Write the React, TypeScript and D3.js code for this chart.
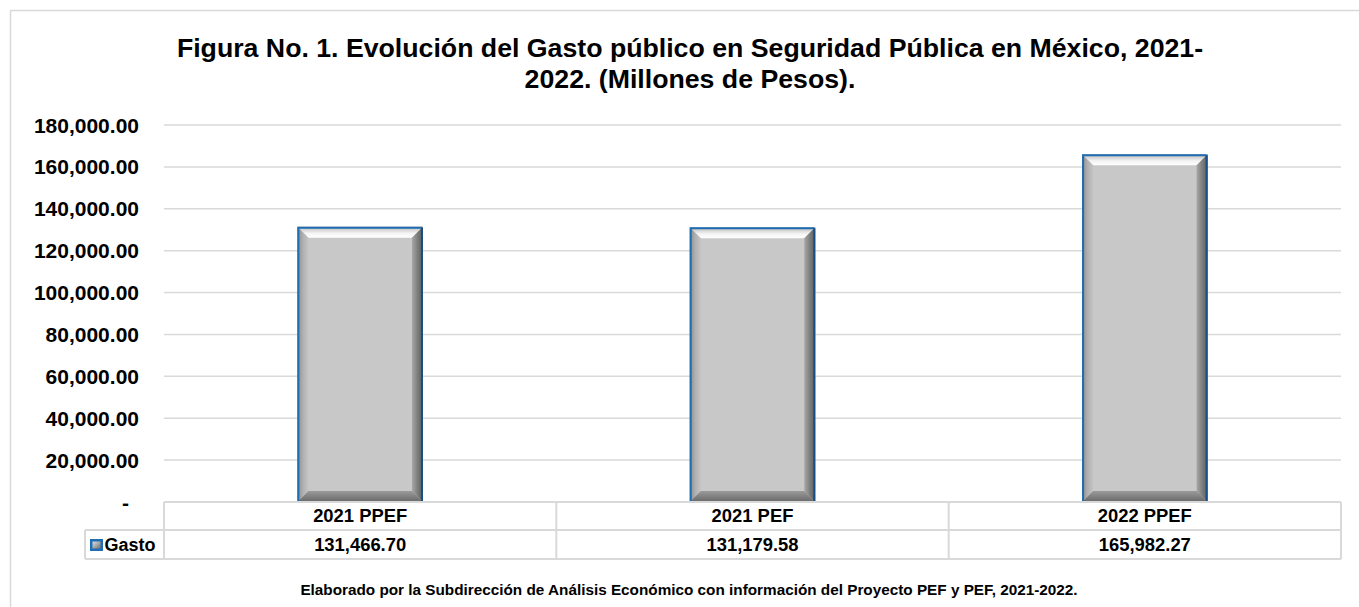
import React from "react";
import * as d3 from "d3";

const categories = ["2021 PPEF", "2021 PEF", "2022 PPEF"];
const gasto = [131466.7, 131179.58, 165982.27];
const yTicks = [0, 20000, 40000, 60000, 80000, 100000, 120000, 140000, 160000, 180000];
const seriesName = "Gasto";
const titleLines = [
  "Figura No. 1. Evolución del Gasto público en Seguridad Pública en México, 2021-",
  "2022. (Millones de Pesos).",
];
const footer = "Elaborado por la Subdirección de Análisis Económico con información del Proyecto PEF y PEF, 2021-2022.";

const W = 1359;
const H = 607;
const plotLeft = 164;
const plotRight = 1341;
const plotTop = 125;
const plotBottom = 502;

export default function App() {
  const x = d3.scaleBand<string>().domain(categories).range([plotLeft, plotRight]).paddingInner(0.68).paddingOuter(0.34);
  const xc = d3.scaleBand<string>().domain(categories).range([plotLeft, plotRight]);
  const y = d3.scaleLinear().domain([0, 180000]).range([plotBottom, plotTop]);
  const fmt = d3.format(",.2f");
  const font = "'Liberation Sans', Arial, sans-serif";
  const bw = x.bandwidth();
  const bev = 11;
  const row1Top = plotBottom;
  const row2Top = 530;
  const row2Bottom = 559;
  const labelLeft = 85;

  return (
    <div style={{ position: "fixed", left: 0, top: 0 }}>
      <svg width={W} height={H} style={{ display: "block", background: "#fff" }} fontFamily={font}>
        <defs>
          <linearGradient id="gTop" x1="0" y1="0" x2="0" y2="1">
            <stop offset="0" stopColor="#b8b8b8" />
            <stop offset="0.6" stopColor="#f4f4f4" />
            <stop offset="1" stopColor="#ffffff" />
          </linearGradient>
          <linearGradient id="gLeft" x1="0" y1="0" x2="1" y2="0">
            <stop offset="0" stopColor="#8a8a8a" />
            <stop offset="0.5" stopColor="#b0b0b0" />
            <stop offset="1" stopColor="#c4c4c4" />
          </linearGradient>
          <linearGradient id="gRight" x1="0" y1="0" x2="1" y2="0">
            <stop offset="0" stopColor="#a8a8a8" />
            <stop offset="0.5" stopColor="#7e7e7e" />
            <stop offset="1" stopColor="#5e5e5e" />
          </linearGradient>
          <linearGradient id="gBottom" x1="0" y1="0" x2="0" y2="1">
            <stop offset="0" stopColor="#9a9a9a" />
            <stop offset="1" stopColor="#686868" />
          </linearGradient>
          <linearGradient id="gKey" x1="0" y1="0" x2="1" y2="1">
            <stop offset="0" stopColor="#e0e0e0" />
            <stop offset="1" stopColor="#707070" />
          </linearGradient>
        </defs>

        {/* outer border */}
        <rect x={10.5} y={10.5} width={W + 10} height={H + 10} fill="none" stroke="#d9d9d9" strokeWidth={1.5} />

        {/* title */}
        {titleLines.map((t, i) => (
          <text key={i} x={690} y={57 + i * 31} textAnchor="middle" fontSize={26.7} fontWeight="bold" fill="#000">
            {t}
          </text>
        ))}

        {/* gridlines */}
        {yTicks.filter((t) => t > 0).map((t) => (
          <line key={t} x1={plotLeft} x2={plotRight} y1={y(t)} y2={y(t)} stroke="#d9d9d9" strokeWidth={1.5} />
        ))}

        {/* y tick labels */}
        {yTicks.map((t) => (
          <text key={t} x={t === 0 ? 129 : 139} y={y(t) + 7.5} textAnchor="end" fontSize={21} fontWeight="bold" fill="#000">
            {t === 0 ? "-" : fmt(t)}
          </text>
        ))}

        {/* bars */}
        {categories.map((c, i) => {
          const x0 = x(c)!;
          const x1 = x0 + bw;
          const y0 = y(gasto[i]);
          const y1 = y(0);
          return (
            <g key={c}>
              <rect x={x0} y={y0} width={bw} height={y1 - y0} fill="#c8c8c8" />
              <polygon points={`${x0},${y0} ${x1},${y0} ${x1 - bev},${y0 + bev} ${x0 + bev},${y0 + bev}`} fill="url(#gTop)" />
              <polygon points={`${x0},${y0} ${x0 + bev},${y0 + bev} ${x0 + bev},${y1 - bev} ${x0},${y1}`} fill="url(#gLeft)" />
              <polygon points={`${x1},${y0} ${x1},${y1} ${x1 - bev},${y1 - bev} ${x1 - bev},${y0 + bev}`} fill="url(#gRight)" />
              <polygon points={`${x0},${y1} ${x0 + bev},${y1 - bev} ${x1 - bev},${y1 - bev} ${x1},${y1}`} fill="url(#gBottom)" />
              <path d={`M${x0 + 1},${y1} L${x0 + 1},${y0 + 1} L${x1 - 1},${y0 + 1}`} fill="none" stroke="#1f6db3" strokeWidth={2} />
              <line x1={x1 - 1} x2={x1 - 1} y1={y0 + 1} y2={y1} stroke="#154f86" strokeWidth={2} />
            </g>
          );
        })}

        {/* data table */}
        <g stroke="#d9d9d9" strokeWidth={2} fill="none">
          <line x1={plotLeft} x2={plotRight} y1={row1Top} y2={row1Top} />
          <line x1={labelLeft} x2={plotRight} y1={row2Top} y2={row2Top} />
          <line x1={labelLeft} x2={plotRight} y1={row2Bottom} y2={row2Bottom} />
          <line x1={labelLeft} x2={labelLeft} y1={row2Top} y2={row2Bottom} />
          <line x1={plotLeft} x2={plotLeft} y1={row1Top} y2={row2Bottom} />
          {categories.map((c) => (
            <line key={c} x1={xc(c)! + xc.bandwidth()} x2={xc(c)! + xc.bandwidth()} y1={row1Top} y2={row2Bottom} />
          ))}
        </g>
        {categories.map((c, i) => (
          <g key={c}>
            <text x={xc(c)! + xc.bandwidth() / 2} y={522} textAnchor="middle" fontSize={18.4} fontWeight="bold" fill="#000">
              {c}
            </text>
            <text x={xc(c)! + xc.bandwidth() / 2} y={551} textAnchor="middle" fontSize={18.4} fontWeight="bold" fill="#000">
              {fmt(gasto[i])}
            </text>
          </g>
        ))}
        <rect x={90} y={539} width={13} height={12} fill="#1f6db3" />
        <rect x={92.5} y={541.5} width={8} height={7} fill="url(#gKey)" />
        <text x={104.5} y={551} fontSize={18} fontWeight="bold" fill="#000">
          {seriesName}
        </text>

        {/* footer */}
        <text x={689} y={595} textAnchor="middle" fontSize={15.3} fontWeight="bold" fill="#000">
          {footer}
        </text>
      </svg>
    </div>
  );
}
